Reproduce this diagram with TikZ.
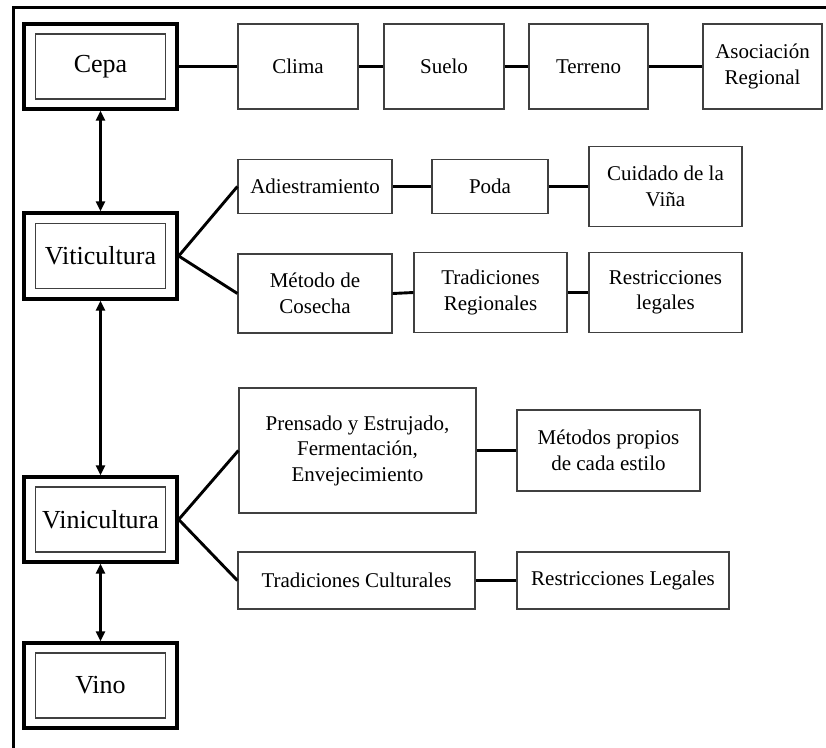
\documentclass[tikz,border=0pt]{standalone}
\usepackage{fontspec}
\setmainfont{Liberation Serif}
\usetikzlibrary{arrows.meta}
\tikzset{
  cbox/.style={draw=black!75, line width=1.2pt, fill=white, inner sep=0pt, align=center,
    font=\fontsize{21}{25.5}\selectfont, anchor=center},
  outerbox/.style={draw=black, line width=3.4pt, minimum width=153pt, minimum height=85pt, inner sep=0pt, anchor=center},
  innerbox/.style={draw=black!75, line width=1.1pt, minimum width=130pt, minimum height=65pt, inner sep=0pt, anchor=center,
    font=\fontsize{26}{30}\selectfont},
  link/.style={line width=2.9pt, black},
  twoway/.style={line width=2.3pt, black, {Triangle[length=10pt,width=9pt]}-{Triangle[length=10pt,width=9pt]}},
  frameline/.style={line width=3pt, black}
}
\begin{document}
\begin{tikzpicture}[x=1pt,y=-1pt]
\useasboundingbox[fill=white] (0,0) rectangle (826,747);
% frame
\coordinate (fA) at (13,760);
\coordinate (fB) at (13,7);
\coordinate (fC) at (830,7);
\draw[frameline] (fA) -- (fB) -- (fC);

% left main boxes
\node[outerbox] (cepa) at (100.5,66.5) {};
\node[innerbox] (cepai) at (cepa.center) {Cepa};
\node[outerbox, minimum height=86pt] (vit) at (100.5,256) {};
\node[innerbox] (viti) at (vit.center) {Viticultura};
\node[outerbox] (vin) at (100.5,519.5) {};
\node[innerbox] (vini) at (vin.center) {Vinicultura};
\node[outerbox] (vino) at (100.5,685.5) {};
\node[innerbox] (vinoi) at (vino.center) {Vino};

% row 1
\node[cbox, minimum width=120pt, minimum height=85pt] (clima) at (298,66.5) {Clima};
\node[cbox, minimum width=120pt, minimum height=85pt] (suelo) at (444,66.5) {Suelo};
\node[cbox, minimum width=119pt, minimum height=85pt] (terreno) at (588.5,66.5) {Terreno};
\node[cbox, minimum width=119pt, minimum height=85pt] (asoc) at (762.5,66.5) {Asociación\\Regional};

% viticultura rows
\node[cbox, minimum width=154pt, minimum height=54pt] (adi) at (315,186.5) {Adiestramiento};
\node[cbox, minimum width=116pt, minimum height=54pt] (poda) at (490,186.5) {Poda};
\node[cbox, minimum width=153pt, minimum height=80pt] (cuid) at (665.5,186.5) {Cuidado de la\\Viña};
\node[cbox, minimum width=154pt, minimum height=79pt] (met) at (315,293.5) {Método de\\Cosecha};
\node[cbox, minimum width=153pt, minimum height=80pt] (tradreg) at (490.5,292.5) {Tradiciones\\Regionales};
\node[cbox, minimum width=153pt, minimum height=80pt] (restleg) at (665.5,292.5) {Restricciones\\legales};

% vinicultura rows
\node[cbox, minimum width=237pt, minimum height=125pt] (prens) at (357.5,450.5) {Prensado y Estrujado,\\Fermentación,\\Envejecimiento};
\node[cbox, minimum width=183pt, minimum height=81pt] (metprop) at (608.5,450.5) {Métodos propios\\de cada estilo};
\node[cbox, minimum width=237pt, minimum height=57pt] (tradcul) at (356.5,580.5) {Tradiciones Culturales};
\node[cbox, minimum width=212pt, minimum height=57pt] (restLeg) at (623,580.5) {Restricciones Legales};

% connectors
\draw[link] (cepa.east) -- (clima.west);
\draw[link] (clima.east) -- (suelo.west);
\draw[link] (suelo.east) -- (terreno.west);
\draw[link] (terreno.east) -- (asoc.west);

\draw[link] (vit.east) -- (adi.west);
\draw[link] (vit.east) -- (met.west);
\draw[link] (adi.east) -- (poda.west);
\draw[link] (poda.east) -- (cuid.west);
\draw[link] (met.east) -- (tradreg.west);
\draw[link] (tradreg.east) -- (restleg.west);

\draw[link] (vin.east) -- (prens.west);
\draw[link] (vin.east) -- (tradcul.west);
\draw[link] (prens.east) -- (metprop.west);
\draw[link] (tradcul.east) -- (restLeg.west);

\draw[twoway] (cepa.south) -- (vit.north);
\draw[twoway] (vit.south) -- (vin.north);
\draw[twoway] (vin.south) -- (vino.north);
\end{tikzpicture}
\end{document}
